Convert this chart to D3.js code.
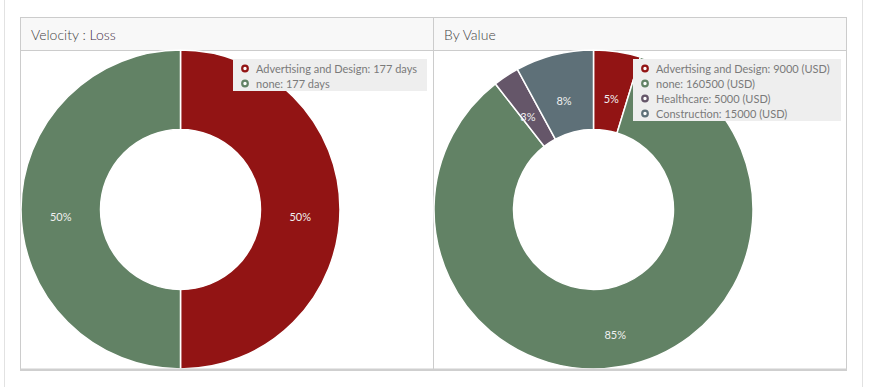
<!DOCTYPE html>
<html><head><meta charset="utf-8">
<script src="https://cdn.jsdelivr.net/npm/d3@7"></script>
<style>
html,body{margin:0;padding:0;background:#fff;}
svg{display:block;font-family:Lato,"Open Sans",sans-serif;}
</style></head>
<body><svg id="c" width="877" height="387"></svg>
<script>
const leftTitle = ["Velocity : ", "Loss"];
const leftCategories = ["Advertising and Design", "none"];
const leftValues = [177, 177];
const leftUnit = "days";
const rightTitle = "By Value";
const rightCategories = ["Advertising and Design", "none", "Healthcare", "Construction"];
const rightValues = [9000, 160500, 5000, 15000];
const rightUnit = "(USD)";
const colors = {"Advertising and Design":"#921414","none":"#628265","Healthcare":"#655669","Construction":"#5e7078"};

const svg = d3.select("#c");
// outer frame
svg.append("line").attr("x1",4.5).attr("x2",4.5).attr("y1",0).attr("y2",387).attr("stroke","#e2e2e2");
svg.append("line").attr("x1",862.5).attr("x2",862.5).attr("y1",0).attr("y2",387).attr("stroke","#e2e2e2");

function panel(x0, w, titleParts, cats, vals, unit, legend) {
  const g = svg.append("g");
  const y0 = 17, hH = 33, bottom = 369;
  g.append("rect").attr("x",x0+0.5).attr("y",y0+0.5).attr("width",w).attr("height",hH)
    .attr("fill","#f8f8f8").attr("stroke","#cccccc");
  g.append("rect").attr("x",x0+0.5).attr("y",y0+hH+0.5).attr("width",w).attr("height",bottom-y0-hH)
    .attr("fill","#fff").attr("stroke","#cccccc");
  const t = g.append("text").attr("x",x0+11).attr("y",y0+23).attr("font-size",14)
    .attr("font-weight",300).attr("fill","#444");
  titleParts.forEach((p,i)=>t.append("tspan").text(p).attr("fill", i===1?"#3f2a45":"#444"));

  const cx = x0 + 160.5, cy = 209.5, R = 159.5, r = 80;
  const total = d3.sum(vals);
  const pie = d3.pie().sort(null).value(d=>d.v);
  const data = pie(cats.map((c,i)=>({c, v: vals[i]})));
  const arc = d3.arc().innerRadius(r).outerRadius(R);
  const labelArc = d3.arc().innerRadius((R+r)/2).outerRadius((R+r)/2);
  const cg = g.append("g").attr("transform",`translate(${cx},${cy})`);
  cg.selectAll("path").data(data).join("path").attr("d",arc)
    .attr("fill",d=>colors[d.data.c]).attr("stroke","#fff").attr("stroke-width",1.5);
  cg.selectAll("text").data(data).join("text")
    .attr("transform",d=>{const [a,b]=labelArc.centroid(d); return `translate(${a},${b+8})`;})
    .attr("text-anchor","middle").attr("dy","0.35em").attr("font-size",11)
    .attr("fill","#f0f0f0")
    .text(d=>Math.round(d.data.v/total*100)+"%");

  // legend
  const lg = g.append("g");
  lg.append("rect").attr("x",legend.x).attr("y",legend.y).attr("width",legend.w)
    .attr("height",cats.length*15+2).attr("fill","#eeeeee");
  cats.forEach((c,i)=>{
    const yy = legend.y + 9.5 + i*15;
    lg.append("circle").attr("cx",legend.x+12).attr("cy",yy).attr("r",2.8)
      .attr("fill","#fff").attr("stroke",colors[c]).attr("stroke-width",2.2);
    lg.append("text").attr("x",legend.x+23).attr("y",yy+4).attr("font-size",11)
      .attr("fill","#7a7a7a").text(`${c}: ${vals[i]} ${unit}`);
  });
}

panel(20, 413, leftTitle, leftCategories, leftValues, leftUnit, {x:233, y:59, w:194});
panel(433, 413, [rightTitle], rightCategories, rightValues, rightUnit, {x:633, y:59, w:208});

// bottom thick line
svg.append("rect").attr("x",20).attr("y",368.5).attr("width",827).attr("height",2.5).attr("fill","#cfcfcf");
</script></body></html>
